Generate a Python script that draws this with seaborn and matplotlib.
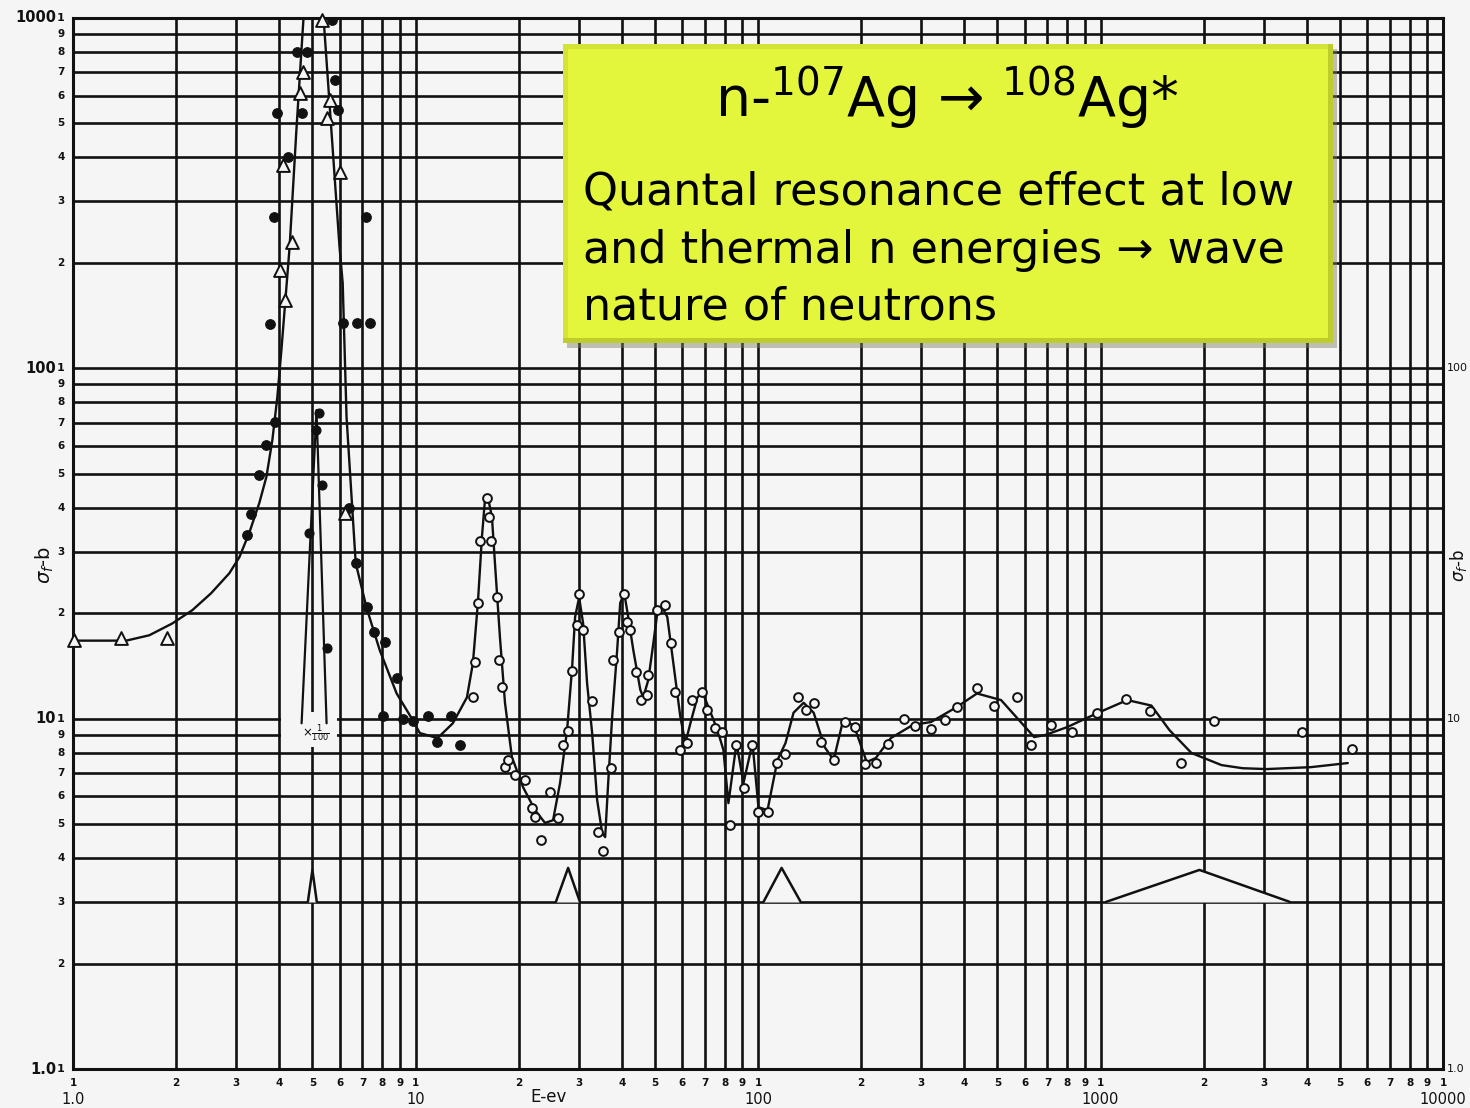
import numpy as np
import matplotlib
matplotlib.use("Agg")
import matplotlib.pyplot as plt
import matplotlib.transforms as mtransforms
from matplotlib.patches import Rectangle
from matplotlib.ticker import LogLocator, NullFormatter
import seaborn as sns

# ---- fitted cross-section curve (E in eV, sigma in barns) ----
curve_energy = [1.0, 1.43, 1.67, 1.95, 2.23, 2.53, 2.86, 3.06, 3.27, 3.50,
                3.67, 3.82, 3.95, 4.06, 4.29, 4.49, 4.71, 4.88, 5.08, 5.25,
                5.39, 6.00, 6.13, 6.29, 6.69, 7.20, 7.86, 8.81, 9.82, 10.29,
                11.6, 12.85, 14.13,
                14.71, 15.21, 15.63, 15.95, 16.27, 16.72, 17.06, 17.64, 18.25, 19.12,
                20.60, 22.34, 23.89, 25.21, 26.43, 27.71, 28.66, 29.24, 30.04, 30.86,
                31.70, 32.79, 33.91, 35.08, 35.79, 36.52, 37.51, 38.80, 39.60, 40.69,
                41.80, 43.24, 45.32, 46.24, 47.83, 49.47, 50.80, 52.55, 54.35, 56.60,
                59.34, 61.37, 63.47, 66.53, 68.81, 71.65, 76.13, 79.25, 81.97, 86.54,
                90.7, 96.36, 100.3, 106.6, 114.0, 120.3, 127.0, 135.9, 145.4, 156.5,
                166.3, 176.7, 190.3, 207.7, 220.7, 244.2, 283.3, 319.7, 380.9, 435.9,
                512.5, 578.5, 640.1, 689.2, 799.3, 984.9, 1197, 1408, 1589, 1843,
                2256, 2600, 3055, 4109, 5272]
curve_sigma = [16.7, 16.7, 17.3, 18.7, 20.4, 22.8, 26.0, 28.9, 33.9, 41.3,
               49.0, 62.4, 82.8, 113, 222, 479, 1000, 2200, 5000, 1300,
               1000, 222, 175, 72.6, 27.8, 20.7, 15.7, 11.8, 9.9, 9.1,
               8.8, 9.7, 11.5,
               14.4, 21.4, 33.0, 42.1, 42.9, 37.6, 27.8, 17.1, 11.1, 7.77,
               6.38, 5.48, 5.04, 5.13, 6.55, 9.28, 14.0, 19.5, 22.2, 18.7,
               12.6, 9.1, 5.86, 4.72, 4.59, 6.55, 10.1, 15.7, 21.4, 22.8,
               19.5, 15.7, 12.1, 11.5, 12.9, 16.4, 20.0, 20.8, 19.5, 14.4,
               10.1, 8.52, 9.7, 11.5, 11.9, 10.8, 9.28, 8.14, 5.74, 8.52,
               6.55, 8.52, 5.59, 5.48, 7.62, 8.52, 10.4, 11.1, 10.4, 8.3,
               7.62, 9.78, 9.6, 7.52, 7.72, 8.8, 9.6, 9.78, 10.8, 11.8,
               11.3, 9.9, 8.86, 8.98, 9.46, 10.4, 11.3, 10.9, 9.28, 7.98,
               7.37, 7.22, 7.18, 7.27, 7.47]

# resonance near 5 eV drawn on a 1/100 scale
fine_line_energy = [4.65, 5.14, 5.50]
fine_line_sigma = [9.7, 76.0, 9.7]
fine_energy = [4.90, 5.11, 5.21, 5.35, 5.50]
fine_sigma = [33.9, 66.7, 74.5, 46.4, 15.9]

# filled-dot measurements
dot_energy = [3.23, 3.32, 3.50, 3.67, 3.90, 3.77, 3.85, 4.23, 3.95, 4.65,
              4.52, 4.81, 5.69, 5.84, 5.92, 7.15, 6.13, 6.73, 7.35, 6.38,
              6.69, 7.20, 7.55, 8.13, 8.81, 8.02, 9.18, 9.82, 10.86, 11.54,
              12.68, 13.47]
dot_sigma = [33.4, 38.4, 49.6, 60.4, 70.3, 134, 270, 401, 536, 536,
             800, 800, 987, 665, 546, 270, 135, 135, 135, 39.9,
             27.8, 20.8, 17.7, 16.5, 13.1, 10.2, 10.0, 9.84, 10.2, 8.58,
             10.2, 8.41]

# open-triangle measurements
tri_energy = [1.01, 1.38, 1.88, 4.15, 4.01, 4.35, 4.09, 4.59, 4.68, 5.32,
              5.61, 5.50, 6.00, 6.21]
tri_sigma = [16.8, 17.0, 17.0, 157, 191, 229, 380, 611, 701, 985,
             583, 518, 363, 38.6]

# open-circle measurements
circ_energy = [14.71, 14.91, 15.21, 15.42, 16.17, 16.38, 16.61, 17.29, 17.53, 17.88,
               18.25, 18.62, 19.51, 20.88, 21.89, 22.34, 23.26, 24.71, 26.08, 26.97,
               27.89, 28.66, 29.64, 30.04, 30.86, 32.79, 34.14, 35.31, 37.26, 37.77,
               39.33, 40.69, 41.52, 42.37, 44.12, 45.63, 47.51, 47.83, 50.80, 53.62,
               55.84, 57.37, 59.34, 62.20, 64.33, 68.81, 71.17, 75.10, 78.75, 83.08,
               86.54, 91.30, 96.36, 100.3, 107.3, 114.0, 119.6, 130.5, 137.7, 145.4,
               152.4, 166.3, 179.1, 191.6, 204.9, 220.7, 239.3, 266.6, 287.1, 319.7,
               351.3, 380.9, 435.9, 488.9, 570.7, 627.3, 717.7, 826.6, 978.3, 1189,
               1398, 1723, 2152, 3868, 5417]
circ_sigma = [11.5, 14.5, 21.4, 32.1, 42.6, 37.6, 32.1, 22.2, 14.7, 12.3,
              7.27, 7.62, 6.9, 6.68, 5.56, 5.24, 4.5, 6.17, 5.2, 8.41,
              9.2, 13.7, 18.5, 22.7, 17.9, 11.2, 4.75, 4.19, 7.23, 14.7,
              17.7, 22.7, 18.9, 17.9, 13.6, 11.3, 11.7, 13.3, 20.4, 21.1,
              16.4, 11.9, 8.14, 8.52, 11.3, 11.9, 10.6, 9.4, 9.16, 4.97,
              8.41, 6.34, 8.41, 5.41, 5.41, 7.47, 7.93, 11.5, 10.6, 11.1,
              8.58, 7.62, 9.78, 9.46, 7.42, 7.47, 8.46, 9.97, 9.5, 9.34,
              9.9, 10.8, 12.2, 10.9, 11.5, 8.41, 9.6, 9.16, 10.4, 11.4,
              10.5, 7.47, 9.84, 9.16, 8.19]

# energy-resolution triangles
res_energy = [[4.85, 5.0, 5.15], [25.7, 27.9, 30.2], [103.8, 117.2, 133.2], [1039, 1945, 3567]]
res_sigma = [[3.0, 3.7, 3.0], [3.0, 3.75, 3.0], [3.0, 3.75, 3.0], [3.0, 3.7, 3.0]]

# axis labelling
y_decades = [1, 10, 100, 1000]
y_decade_names = ["1.0", "10", "100", "1000"]
x_decades = [1, 10, 100, 1000, 10000]
x_decade_names = ["1.0", "10", "100", "1000", "10000"]

title_text = r"n-$^{107}$Ag → $^{108}$Ag*"
body_lines = ["Quantal resonance effect at low",
              "and thermal n energies → wave",
              "nature of neutrons"]

BG = "#f5f5f5"
INK = "#111111"

sns.set_theme(style="white")
plt.rcParams["font.family"] = ["DejaVu Sans"]
plt.rcParams["mathtext.fontset"] = "dejavusans"

W, H = 1470, 1108
fig = plt.figure(figsize=(W / 100, H / 100), dpi=100, facecolor=BG)
AX_L, AX_R, AX_T, AX_B = 73, 1443, 18, 1069
ax = fig.add_axes([AX_L / W, (H - AX_B) / H, (AX_R - AX_L) / W, (AX_B - AX_T) / H])
ax.set_facecolor(BG)
ax.set_xscale("log")
ax.set_yscale("log")
ax.set_xlim(1, 1e4)
ax.set_ylim(1, 1e3)
for axis in (ax.xaxis, ax.yaxis):
    axis.set_major_locator(LogLocator(base=10, numticks=12))
    axis.set_minor_locator(LogLocator(base=10, subs=np.arange(2, 10), numticks=80))
    axis.set_major_formatter(NullFormatter())
    axis.set_minor_formatter(NullFormatter())
ax.tick_params(which="both", length=0)
ax.set_axisbelow(True)
ax.grid(which="both", color=INK, lw=1.9)
for s in ax.spines.values():
    s.set_color(INK)
    s.set_linewidth(2.2)
ax.set_xlabel("")
ax.set_ylabel("")

# blank patch behind the 1/100 label
ax.add_patch(Rectangle((4.05, 8.3), 5.9 - 4.05, 10.45 - 8.3, fc=BG, ec="none", zorder=1.5))

# fitted curve and 1/100 resonance
sns.lineplot(x=curve_energy, y=curve_sigma, sort=False, estimator=None,
             color=INK, lw=1.7, ax=ax, zorder=3)
sns.lineplot(x=fine_line_energy, y=fine_line_sigma, sort=False, estimator=None,
             color=INK, lw=1.6, ax=ax, zorder=3)
ax.text(5.1, 9.1, r"$\times\frac{1}{100}$", fontsize=8.5, ha="center", va="center",
        color=INK, zorder=4)

# resolution triangles
for re_, rs_ in zip(res_energy, res_sigma):
    ax.fill(re_, rs_, color=BG, zorder=2.5)
    sns.lineplot(x=re_, y=rs_, sort=False, estimator=None, color=INK, lw=1.8,
                 ax=ax, zorder=3)

# measured points
sns.scatterplot(x=circ_energy, y=circ_sigma, marker="o", s=40, color=BG,
                edgecolor=INK, linewidth=1.4, ax=ax, zorder=5)
sns.scatterplot(x=dot_energy, y=dot_sigma, marker="o", s=48, color=INK,
                edgecolor=INK, linewidth=0.8, ax=ax, zorder=5)
sns.scatterplot(x=fine_energy, y=fine_sigma, marker="o", s=42, color=INK,
                edgecolor=INK, linewidth=0.8, ax=ax, zorder=5)
sns.scatterplot(x=tri_energy, y=tri_sigma, marker="^", s=85, color=BG,
                edgecolor=INK, linewidth=1.4, ax=ax, zorder=6, clip_on=False)

# ---- log-paper style labels ----
axw, axh = AX_R - AX_L, AX_B - AX_T
def ax_x(px):
    return (px - AX_L) / axw
def ax_y(py):
    return (AX_B - py) / axh

ylab = mtransforms.blended_transform_factory(ax.transAxes, ax.transData)
xlab = mtransforms.blended_transform_factory(ax.transData, ax.transAxes)

for v, name in zip(y_decades, y_decade_names):
    ax.text(ax_x(56), v, name, transform=ylab, ha="right", va="center",
            fontsize=10.5, fontweight="bold", color=INK)
    ax.text(ax_x(61), v, "1", transform=ylab, ha="center", va="center",
            fontsize=8, fontweight="bold", color=INK)
for v in y_decades[:-1]:
    for k in range(2, 10):
        ax.text(ax_x(61), k * v, str(k), transform=ylab, ha="center", va="center",
                fontsize=7.5, fontweight="bold", color=INK)

# right-hand side labels
for v, name in zip(y_decades[:-1], y_decade_names[:-1]):
    ax.text(ax_x(1447), v, name, transform=ylab, ha="left", va="center",
            fontsize=8, color=INK)
ax.text(ax_x(1459), 27.4, r"$\sigma_f$-b", transform=ylab, rotation=90,
        ha="center", va="center", fontsize=12, color=INK)
ax.text(ax_x(45), 27.4, r"$\sigma_f$-b", transform=ylab, rotation=90,
        ha="center", va="center", fontsize=14, color=INK)

for d in x_decades[:-1]:
    for k in range(1, 10):
        ax.text(k * d, ax_y(1083), str(k), transform=xlab, ha="center", va="center",
                fontsize=7.5, fontweight="bold", color=INK)
ax.text(x_decades[-1], ax_y(1083), "1", transform=xlab, ha="center", va="center",
        fontsize=7.5, fontweight="bold", color=INK)
for v, name in zip(x_decades, x_decade_names):
    ax.text(v, ax_y(1099), name, transform=xlab, ha="center", va="center",
            fontsize=10.5, color=INK)
ax.text(24.4, ax_y(1097), "E-ev", transform=xlab, ha="center", va="center",
        fontsize=12, color=INK)

# ---- annotation box ----
bx0, bx1, by0, by1 = 563, 1333, 44, 343
fx, fy, fw, fh = bx0 / W, 1 - by1 / H, (bx1 - bx0) / W, (by1 - by0) / H
fig.add_artist(Rectangle((fx + 4 / W, fy - 5 / H), fw, fh, transform=fig.transFigure,
                         fc="#7d7d62", alpha=0.45, ec="none", zorder=20))
fig.add_artist(Rectangle((fx, fy), fw, fh, transform=fig.transFigure,
                         fc="#bfcd2c", ec="none", zorder=21))
fig.add_artist(Rectangle((fx, fy + 5 / H), fw - 5 / W, fh - 5 / H, transform=fig.transFigure,
                         fc="#d4e436", ec="none", zorder=21.5))
fig.add_artist(Rectangle((fx + 5 / W, fy + 5 / H), fw - 10 / W, fh - 10 / H,
                         transform=fig.transFigure, fc="#e3f63b", ec="none", zorder=22))

fig.text(947 / W, 1 - 117 / H, title_text, ha="center", va="baseline",
         fontsize=40, color="black", zorder=23)
for line, base in zip(body_lines, [205, 263, 320]):
    fig.text(583 / W, 1 - base / H, line, ha="left", va="baseline",
             fontsize=32, color="black", zorder=23)

fig.savefig("out.png", dpi=100, facecolor=BG)
